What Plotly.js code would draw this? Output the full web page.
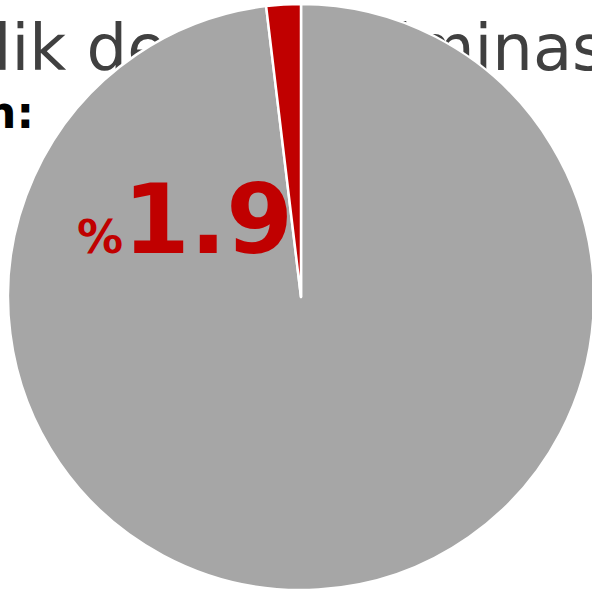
<!DOCTYPE html>
<html>
<head>
<meta charset="utf-8">
<script src="https://cdn.plot.ly/plotly-3.0.1.min.js"></script>
<style>
html,body{margin:0;padding:0;overflow:hidden;background:#fff;}
#chart{width:600px;height:592px;}
</style>
</head>
<body>
<div id="chart"></div>
<script>
// Data
const sliceLabels = ["Diğer", "Pay"];
const sliceValues = [98.1, 1.9];
const sliceColors = ["#a6a6a6", "#c00000"];
const titleText = "Eşitlik de – diskriminasyon";
const subtitleText = "Kadın:";

const W = 600, H = 592;

const pie = {
  type: "pie",
  labels: sliceLabels,
  values: sliceValues,
  sort: false,
  direction: "clockwise",
  rotation: 0,
  textinfo: "none",
  hoverinfo: "none",
  marker: {colors: sliceColors, line: {color: "#ffffff", width: 2.5}},
  domain: {x: [8 / W, 594 / W], y: [2 / H, 588 / H]},
  showlegend: false
};

// Background text (drawn beneath the pie on a hidden cartesian layer)
const bgTitle = {
  type: "scatter",
  mode: "text",
  x: [300],
  y: [54],
  text: [titleText],
  textposition: "middle center",
  textfont: {family: "DejaVu Sans", size: 64, color: "#404040"},
  cliponaxis: false,
  hoverinfo: "none",
  showlegend: false
};
const bgSub = {
  type: "scatter",
  mode: "text",
  x: [34],
  y: [117],
  text: ["<b>" + subtitleText + "</b>"],
  textposition: "middle left",
  textfont: {family: "DejaVu Sans", size: 44, color: "#000000"},
  cliponaxis: false,
  hoverinfo: "none",
  showlegend: false
};

const layout = {
  width: W,
  height: H,
  margin: {l: 0, r: 0, t: 0, b: 0},
  paper_bgcolor: "#ffffff",
  plot_bgcolor: "rgba(0,0,0,0)",
  xaxis: {range: [0, W], visible: false, fixedrange: true},
  yaxis: {range: [H, 0], visible: false, fixedrange: true},
  showlegend: false,
  annotations: [{
    xref: "paper", yref: "paper",
    x: 295 / W, y: 1 - 278 / H,
    xanchor: "right", yanchor: "bottom",
    showarrow: false,
    text: "<span style='font-size:46px'>%</span><b>" + sliceValues[1].toFixed(1) + "</b>",
    font: {family: "DejaVu Sans", size: 96, color: sliceColors[1], weight: "bold"}
  }]
};

Plotly.newPlot("chart", [bgTitle, bgSub, pie], layout, {staticPlot: true, displayModeBar: false});
</script>
</body>
</html>
